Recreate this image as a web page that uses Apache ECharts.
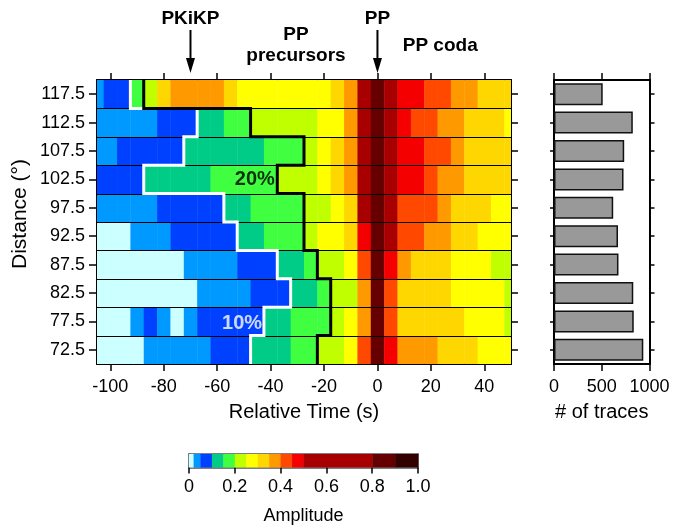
<!DOCTYPE html>
<html><head><meta charset="utf-8">
<script src="https://cdn.jsdelivr.net/npm/echarts@6/dist/echarts.min.js"></script>
<style>html,body{margin:0;padding:0;background:#fff}#c{width:673px;height:527px}</style>
</head><body><div id="c"></div>
<script>
// ---- data ----
const distances = [72.5, 77.5, 82.5, 87.5, 92.5, 97.5, 102.5, 107.5, 112.5, 117.5];
const timeBins = [-105,-100,-95,-90,-85,-80,-75,-70,-65,-60,-55,-50,-45,-40,-35,-30,-25,-20,-15,-10,-5,0,5,10,15,20,25,30,35,40,45,50];
const amp_72_5  = [0.01,0.01,0.01,0.01,0.03,0.03,0.03,0.03,0.03,0.07,0.07,0.07,0.12,0.12,0.12,0.18,0.18,0.22,0.22,0.27,0.42,0.85,0.47,0.38,0.38,0.38,0.33,0.33,0.33,0.27,0.27,0.27];
const amp_77_5  = [0.01,0.01,0.01,0.03,0.07,0.03,0.01,0.03,0.07,0.07,0.07,0.07,0.07,0.12,0.12,0.18,0.18,0.18,0.22,0.27,0.38,0.85,0.42,0.33,0.33,0.33,0.33,0.33,0.27,0.27,0.27,0.22];
const amp_82_5  = [0.01,0.01,0.01,0.01,0.01,0.01,0.01,0.01,0.03,0.03,0.03,0.03,0.07,0.07,0.07,0.12,0.12,0.18,0.22,0.22,0.38,0.85,0.42,0.33,0.33,0.33,0.33,0.27,0.27,0.27,0.27,0.22];
const amp_87_5  = [0.01,0.01,0.01,0.01,0.01,0.01,0.01,0.03,0.03,0.03,0.03,0.07,0.07,0.07,0.12,0.12,0.18,0.22,0.22,0.27,0.42,0.85,0.47,0.38,0.33,0.33,0.33,0.27,0.27,0.27,0.22,0.22];
const amp_92_5  = [0.01,0.01,0.01,0.03,0.03,0.03,0.07,0.07,0.07,0.07,0.07,0.12,0.12,0.18,0.18,0.18,0.22,0.27,0.27,0.33,0.47,0.85,0.6,0.42,0.42,0.38,0.38,0.33,0.33,0.27,0.27,0.27];
const amp_97_5  = [0.03,0.03,0.03,0.03,0.03,0.07,0.07,0.07,0.07,0.07,0.12,0.12,0.18,0.18,0.18,0.18,0.22,0.22,0.27,0.33,0.6,0.85,0.6,0.42,0.42,0.42,0.38,0.33,0.33,0.33,0.27,0.27];
const amp_102_5 = [0.07,0.07,0.07,0.07,0.12,0.12,0.12,0.12,0.12,0.18,0.18,0.18,0.18,0.18,0.22,0.22,0.22,0.27,0.33,0.38,0.6,0.85,0.6,0.47,0.47,0.42,0.38,0.38,0.33,0.33,0.33,0.33];
const amp_107_5 = [0.03,0.03,0.07,0.07,0.07,0.07,0.07,0.12,0.12,0.12,0.12,0.12,0.12,0.18,0.18,0.18,0.22,0.27,0.33,0.38,0.6,0.85,0.6,0.47,0.47,0.42,0.42,0.38,0.33,0.33,0.33,0.33];
const amp_112_5 = [0.03,0.03,0.03,0.03,0.03,0.07,0.07,0.07,0.12,0.12,0.18,0.18,0.22,0.22,0.22,0.22,0.22,0.27,0.27,0.38,0.6,0.85,0.6,0.47,0.42,0.42,0.38,0.38,0.33,0.33,0.33,0.27];
const amp_117_5 = [0.03,0.07,0.07,0.18,0.22,0.33,0.38,0.38,0.38,0.38,0.33,0.27,0.27,0.27,0.27,0.27,0.27,0.27,0.33,0.38,0.6,0.85,0.6,0.47,0.47,0.42,0.42,0.38,0.38,0.33,0.33,0.33];
const ampRows = [amp_72_5, amp_77_5, amp_82_5, amp_87_5, amp_92_5, amp_97_5, amp_102_5, amp_107_5, amp_112_5, amp_117_5];
const traceCounts = [935, 835, 830, 675, 670, 620, 728, 735, 825, 510];
const levelBounds = [0, 0.02, 0.05, 0.1, 0.15, 0.2, 0.25, 0.3, 0.35, 0.4, 0.45, 0.5, 0.8, 0.9, 1.0];
const levelColors = ['#ccffff','#0099ff','#0040ff','#00cc88','#40ff40','#bfff00','#ffff00','#ffd700','#ff9900','#ff4800','#f50000','#a80000','#660000','#330000'];
const xTicks = [-100, -80, -60, -40, -20, 0, 20, 40];
const countTicks = [0, 500, 1000];
const ampTicks = [0, 0.2, 0.4, 0.6, 0.8, 1.0];
const contour10 = 0.1, contour20 = 0.2;
const BIN = 5, ROW = 5;

// ---- derived ----
const cells = [];
ampRows.forEach((row, i) => row.forEach((v, j) => cells.push([timeBins[j], distances[i], v])));
function contourPath(th) {
  const pts = [];
  for (let i = distances.length - 1; i >= 0; i--) {
    const idx = ampRows[i].findIndex(v => v >= th);
    const x = timeBins[idx] - BIN / 2;
    pts.push([x, distances[i] + ROW / 2], [x, distances[i] - ROW / 2]);
  }
  return pts;
}
const rowBounds = distances.slice(1).map(d => [0, d - ROW / 2]);
const pieces = levelColors.map((c, i) => (i === levelColors.length - 1)
  ? { gte: levelBounds[i], lte: levelBounds[i + 1], color: c }
  : { gte: levelBounds[i], lt: levelBounds[i + 1], color: c });
const cbData = levelColors.map((c, i) => [levelBounds[i], levelBounds[i + 1], (levelBounds[i] + levelBounds[i + 1]) / 2]);

const FONT = "'Liberation Sans', Arial, sans-serif";
const axBase = {
  axisLine: { show: true, onZero: false, lineStyle: { color: '#000', width: 2 } },
  splitLine: { show: false },
  axisTick: { show: true, length: 7, lineStyle: { color: '#000', width: 1.5 } },
  axisLabel: { color: '#000', fontSize: 18, fontFamily: FONT, margin: 14 }
};
function ax(o) { return Object.assign({}, axBase, o, {
  axisTick: Object.assign({}, axBase.axisTick, o.axisTick || {}),
  axisLabel: Object.assign({}, axBase.axisLabel, o.axisLabel || {}),
  axisLine: Object.assign({}, axBase.axisLine, o.axisLine || {})
}); }
const nameStyle = { color: '#000', fontSize: 20, fontFamily: FONT };

const chart = echarts.init(document.getElementById('c'), null, { renderer: 'canvas' });
const option = {
  animation: false,
  backgroundColor: '#fff',
  grid: [
    { left: 97, top: 80, width: 414, height: 284 },
    { left: 554, top: 80, width: 95.5, height: 284 },
    { left: 189, top: 454, width: 229, height: 13.5 }
  ],
  xAxis: [
    ax({ gridIndex: 0, type: 'value', min: -105, max: 50, position: 'bottom',
      axisTick: { customValues: xTicks }, axisLabel: { customValues: xTicks },
      name: 'Relative Time (s)', nameLocation: 'middle', nameGap: 38, nameTextStyle: nameStyle }),
    ax({ gridIndex: 0, type: 'value', min: -105, max: 50, position: 'top',
      axisTick: { customValues: xTicks }, axisLabel: { show: false } }),
    ax({ gridIndex: 1, type: 'value', min: 0, max: 1000, position: 'bottom',
      axisTick: { customValues: countTicks }, axisLabel: { customValues: countTicks, formatter: v => String(v) },
      name: '# of traces', nameLocation: 'middle', nameGap: 38, nameTextStyle: nameStyle }),
    ax({ gridIndex: 1, type: 'value', min: 0, max: 1000, position: 'top',
      axisTick: { customValues: countTicks }, axisLabel: { show: false } }),
    ax({ gridIndex: 2, type: 'value', min: 0, max: 1, position: 'bottom',
      axisLine: { lineStyle: { width: 1.5 } }, axisTick: { length: 6, customValues: ampTicks },
      axisLabel: { customValues: ampTicks, formatter: v => v === 0 ? '0' : v.toFixed(1), margin: 11 },
      name: 'Amplitude', nameLocation: 'middle', nameGap: 40,
      nameTextStyle: { color: '#000', fontSize: 18, fontFamily: FONT } }),
    ax({ gridIndex: 2, type: 'value', min: 0, max: 1, position: 'top', axisLine: { lineStyle: { width: 1.5 } },
      axisTick: { show: false }, axisLabel: { show: false } })
  ],
  yAxis: [
    ax({ gridIndex: 0, type: 'value', min: 70, max: 120, position: 'left',
      axisTick: { customValues: distances, length: 8 },
      axisLabel: { customValues: distances, formatter: v => v.toFixed(1), margin: 12 } }),
    ax({ gridIndex: 0, type: 'value', min: 70, max: 120, position: 'right',
      axisTick: { customValues: distances }, axisLabel: { show: false } }),
    ax({ gridIndex: 1, type: 'category', data: distances.map(String), position: 'left',
      axisTick: { alignWithLabel: true, length: 4 }, axisLabel: { show: false } }),
    ax({ gridIndex: 1, type: 'category', data: distances.map(String), position: 'right',
      axisTick: { alignWithLabel: true, length: 5 }, axisLabel: { show: false } }),
    ax({ gridIndex: 2, type: 'value', min: 0, max: 1, position: 'left', axisLine: { lineStyle: { width: 1.5 } },
      axisTick: { show: false }, axisLabel: { show: false } }),
    ax({ gridIndex: 2, type: 'value', min: 0, max: 1, position: 'right', axisLine: { lineStyle: { width: 1.5 } },
      axisTick: { show: false }, axisLabel: { show: false } })
  ],
  visualMap: { type: 'piecewise', show: false, dimension: 2, seriesIndex: [0, 6], pieces: pieces },
  series: [
    { type: 'custom', xAxisIndex: 0, yAxisIndex: 0, z: 2, silent: true, data: cells,
      encode: { x: 0, y: 1 },
      renderItem: function (params, api) {
        const t = api.value(0), d = api.value(1);
        const p1 = api.coord([t - BIN / 2, d + ROW / 2]);
        const p2 = api.coord([t + BIN / 2, d - ROW / 2]);
        const cs = params.coordSys;
        const r = echarts.graphic.clipRectByRect(
          { x: p1[0], y: p1[1], width: p2[0] - p1[0] + 0.4, height: p2[1] - p1[1] + 0.4 },
          { x: cs.x, y: cs.y, width: cs.width, height: cs.height });
        if (!r) return null;
        return { type: 'rect', shape: r, style: { fill: api.visual('color') } };
      } },
    { type: 'custom', xAxisIndex: 0, yAxisIndex: 0, z: 3, silent: true, data: rowBounds,
      encode: { x: 0, y: 1 },
      renderItem: function (params, api) {
        const cs = params.coordSys;
        const y = Math.round(api.coord([0, api.value(1)])[1]) + 0.5;
        return { type: 'line', shape: { x1: cs.x, y1: y, x2: cs.x + cs.width, y2: y },
          style: { stroke: '#000', lineWidth: 1.2 } };
      } },
    { type: 'line', xAxisIndex: 0, yAxisIndex: 0, z: 4, silent: true, clip: false, symbol: 'none',
      data: contourPath(contour10), lineStyle: { color: '#fff', width: 3, join: 'miter' } },
    { type: 'line', xAxisIndex: 0, yAxisIndex: 0, z: 5, silent: true, clip: false, symbol: 'none',
      data: contourPath(contour20), lineStyle: { color: '#000', width: 3, join: 'miter' } },
    { type: 'scatter', xAxisIndex: 0, yAxisIndex: 0, z: 6, silent: true, symbolSize: 0,
      data: [
        { value: [-45.9, 102.4], label: { show: true, formatter: '20%', color: '#000' } },
        { value: [-50.7, 77.2], label: { show: true, formatter: '10%', color: '#fff' } }
      ],
      label: { position: 'inside', fontSize: 20, fontWeight: 'bold', fontFamily: FONT } },
    { type: 'bar', xAxisIndex: 2, yAxisIndex: 2, z: 2, silent: true, barWidth: 22, data: traceCounts,
      itemStyle: { color: '#999999', borderColor: '#111', borderWidth: 1.5 } },
    { type: 'custom', xAxisIndex: 4, yAxisIndex: 4, z: 2, silent: true, data: cbData,
      encode: { x: [0, 1] },
      renderItem: function (params, api) {
        const p1 = api.coord([api.value(0), 1]);
        const p2 = api.coord([api.value(1), 0]);
        return { type: 'rect', shape: { x: p1[0], y: p1[1], width: p2[0] - p1[0] + 0.4, height: p2[1] - p1[1] },
          style: { fill: api.visual('color') } };
      } }
  ]
};
chart.setOption(option);

// annotations anchored to data coordinates
const top0 = chart.convertToPixel({ gridIndex: 0 }, [0, 120])[1];
function xpix(t) { return chart.convertToPixel({ gridIndex: 0 }, [t, 120])[0]; }
function arrow(x, y1, y2) {
  return [
    { type: 'line', shape: { x1: x, y1: y1, x2: x, y2: y2 - 10 }, style: { stroke: '#000', lineWidth: 2 } },
    { type: 'polygon', shape: { points: [[x - 4.5, y2 - 15], [x + 4.5, y2 - 15], [x, y2]] }, style: { fill: '#000' } }
  ];
}
const boldTxt = { fill: '#000', fontSize: 19, fontWeight: 'bold', fontFamily: FONT, align: 'center', verticalAlign: 'middle' };
const xPKiKP = xpix(-70), xPP = xpix(0);
chart.setOption({
  graphic: [].concat(
    [{ type: 'text', x: xPKiKP, y: 19, style: Object.assign({ text: 'PKiKP' }, boldTxt) }],
    arrow(xPKiKP, 30, top0 - 7),
    [{ type: 'text', x: xpix(-30.5), y: 35, style: Object.assign({ text: 'PP' }, boldTxt) },
     { type: 'text', x: xpix(-30.5), y: 56, style: Object.assign({ text: 'precursors' }, boldTxt) },
     { type: 'text', x: xPP, y: 19, style: Object.assign({ text: 'PP' }, boldTxt) }],
    arrow(xPP, 30, top0 - 7),
    [{ type: 'text', x: xpix(23.5), y: 46, style: Object.assign({ text: 'PP coda' }, boldTxt) },
     { type: 'text', x: 20, y: 214, rotation: Math.PI / 2,
       style: { text: 'Distance (°)', fill: '#000', fontSize: 21, fontFamily: FONT, align: 'center', verticalAlign: 'middle' } }]
  )
});
</script>
</body></html>
